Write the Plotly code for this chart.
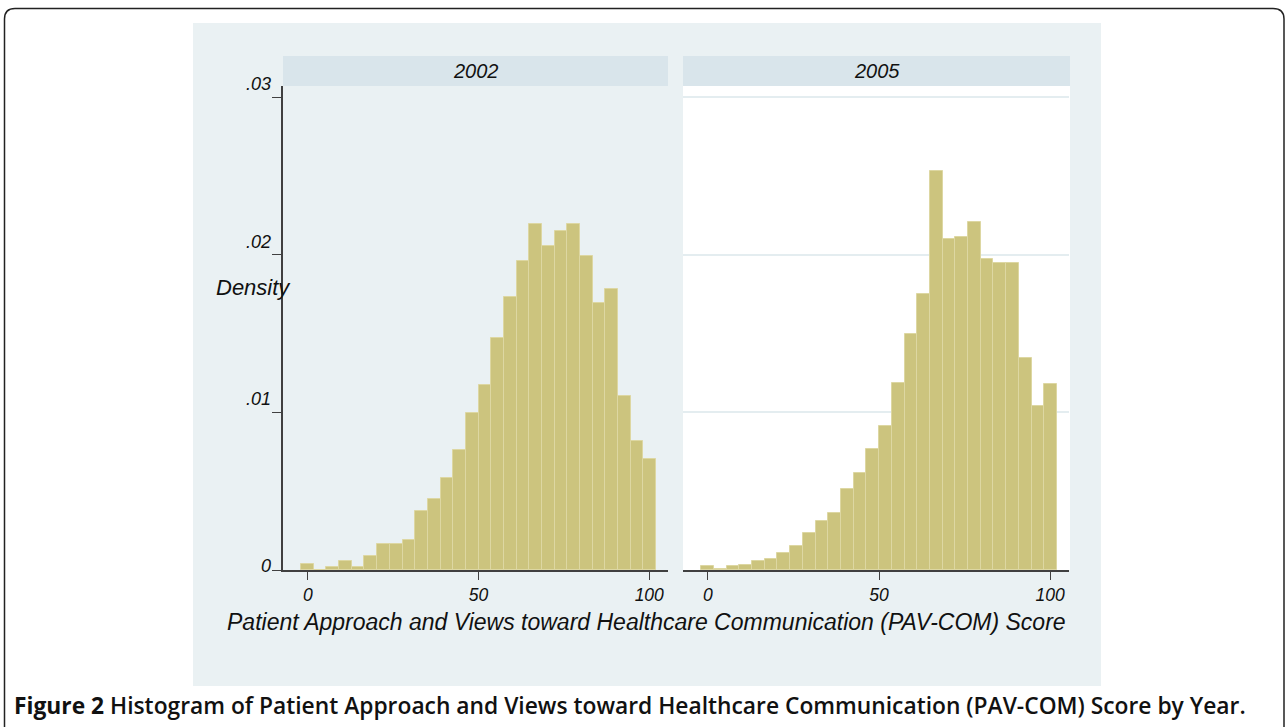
import plotly.graph_objects as go

# ---- data ----
panel_years = ["2002", "2005"]
bin_start = -2.0
bin_width = 104.0 / 28
density_2002 = [0.00038, 0.0, 0.00021, 0.00059, 0.00021, 0.00089, 0.00167, 0.00167,
                0.00192, 0.00372, 0.00448, 0.00584, 0.00763, 0.00998, 0.01175, 0.01471,
                0.01732, 0.01960, 0.02197, 0.02057, 0.02148, 0.02197, 0.01994, 0.01693,
                0.01784, 0.01104, 0.00818, 0.00706]
density_2005 = [0.00028, 0.00008, 0.00028, 0.00032, 0.00059, 0.00072, 0.00106, 0.00153,
                0.00237, 0.00309, 0.00362, 0.00513, 0.00617, 0.00767, 0.00915, 0.01186,
                0.01498, 0.01752, 0.02528, 0.02100, 0.02112, 0.02210, 0.01975, 0.01945,
                0.01945, 0.01347, 0.01038, 0.01182]
x_ticks = [0, 50, 100]
y_ticks = [0, 0.01, 0.02, 0.03]
y_tick_labels = ["0", ".01", ".02", ".03"]

W, H = 1288, 727
def px(x): return x / W
def py(y): return 1 - y / H

centers = [bin_start + bin_width * (i + 0.5) for i in range(len(density_2002))]

BAR = "#CCC47E"
EDGE = "#DDD7A2"
GBG = "#EAF1F3"
STRIP = "#D9E5EB"
AX = "#404040"

fig = go.Figure()
for i, dens in enumerate([density_2002, density_2005]):
    fig.add_trace(go.Bar(x=centers, y=dens, width=bin_width,
                         marker=dict(color=BAR, line=dict(color=EDGE, width=1)),
                         xaxis="x" if i == 0 else "x2", yaxis="y" if i == 0 else "y2",
                         showlegend=False, hoverinfo="skip"))

xr = [-7.3, 105.5]
yr = [0, 0.0307]
ydom = [py(570), py(86)]
tickfont = dict(family="Liberation Sans, Arial, sans-serif", size=17.5, color="#111", style="italic")

fig.update_layout(
    width=W, height=H, margin=dict(l=0, r=0, t=0, b=0),
    paper_bgcolor="white", plot_bgcolor="rgba(0,0,0,0)", bargap=0,
    xaxis=dict(domain=[px(283), px(668)], range=xr, tickvals=x_ticks, ticks="outside",
               ticklen=8, tickcolor=AX, showline=True, linecolor=AX, linewidth=1.5,
               showgrid=False, zeroline=False, tickfont=tickfont, anchor="y"),
    xaxis2=dict(domain=[px(683), px(1069)], range=xr, tickvals=x_ticks, ticks="outside",
                ticklen=8, tickcolor=AX, showline=True, linecolor=AX, linewidth=1.5,
                showgrid=False, zeroline=False, tickfont=tickfont, anchor="y2"),
    yaxis=dict(domain=ydom, range=yr, tickvals=y_ticks, ticks="outside", ticklen=9,
               tickcolor=AX, showline=True, linecolor=AX, linewidth=1.5,
               showgrid=False, zeroline=False, showticklabels=False, anchor="x"),
    yaxis2=dict(domain=ydom, range=yr, tickvals=y_ticks, showline=False, ticks="",
                showgrid=True, gridcolor="#E4EDF0", gridwidth=1.5, zeroline=False,
                showticklabels=False, anchor="x2"),
)

shapes = [
    dict(type="rect", xref="paper", yref="paper", x0=px(193), x1=px(1101), y0=py(686), y1=py(23),
         fillcolor=GBG, line=dict(width=0), layer="below"),
    dict(type="rect", xref="paper", yref="paper", x0=px(683), x1=px(1070), y0=py(570), y1=py(86),
         fillcolor="white", line=dict(width=0), layer="below"),
    dict(type="rect", xref="paper", yref="paper", x0=px(283), x1=px(668), y0=py(86), y1=py(56),
         fillcolor=STRIP, line=dict(width=0), layer="below"),
    dict(type="rect", xref="paper", yref="paper", x0=px(683), x1=px(1070), y0=py(86), y1=py(56),
         fillcolor=STRIP, line=dict(width=0), layer="below"),
    dict(type="path", xref="paper", yref="paper",
         path=(f"M {px(4.5)},{py(740)} L {px(4.5)},{py(19)} Q {px(4.5)},{py(8.5)} {px(15)},{py(8.5)} "
               f"L {px(1273)},{py(8.5)} Q {px(1284)},{py(8.5)} {px(1284)},{py(19)} L {px(1284)},{py(740)}"),
         line=dict(color="#222", width=1.5), layer="above"),
]
fig.update_layout(shapes=shapes)

ann = []
itf = dict(family="Liberation Sans, Arial, sans-serif", color="#111", style="italic")
for (x0, x1), year in zip([(283, 668), (683, 1070)], panel_years):
    ann.append(dict(text=year, xref="paper", yref="paper", x=px((x0 + x1) / 2), y=py(71),
                    showarrow=False, font=dict(size=20, **itf), xanchor="center", yanchor="middle"))
for v, lab in zip(y_ticks, y_tick_labels):
    ann.append(dict(text=lab, xref="paper", yref="y", x=px(273), y=v, showarrow=False,
                    xanchor="right", yanchor="middle", yshift=(4 if v == 0 else 13),
                    font=dict(size=18, **itf)))
ann.append(dict(text="Density", xref="paper", yref="paper", x=px(253), y=py(288), showarrow=False,
                xanchor="center", yanchor="middle", font=dict(size=22, **itf)))
ann.append(dict(text="Patient Approach and Views toward Healthcare Communication (PAV-COM) Score",
                xref="paper", yref="paper", x=px(646), y=py(622), showarrow=False,
                xanchor="center", yanchor="middle", font=dict(size=23, **itf)))
ann.append(dict(text="<b>Figure 2</b> Histogram of Patient Approach and Views toward Healthcare Communication (PAV-COM) Score by Year.",
                xref="paper", yref="paper", x=px(12), y=py(705), showarrow=False,
                xanchor="left", yanchor="middle",
                font=dict(family="Open Sans, Noto Sans, sans-serif", size=22.8, color="#111", weight=600)))
fig.update_layout(annotations=ann)

fig.write_html("out.html", config={"displayModeBar": False},
               post_script="document.body.style.margin='0';")
